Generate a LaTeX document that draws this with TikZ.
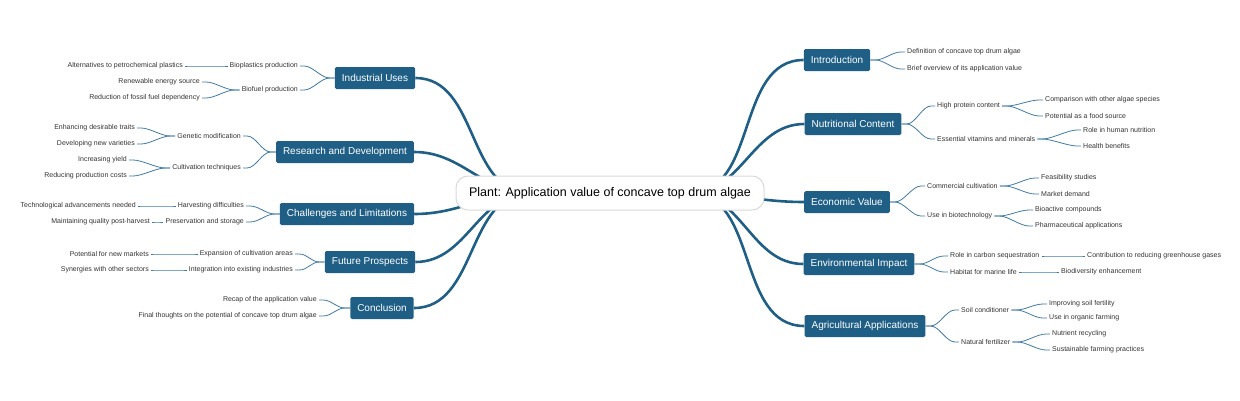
\documentclass[tikz,border=0pt]{standalone}
\usepackage{fontspec}
\setmainfont{Liberation Sans}
\definecolor{mb}{HTML}{1F5F86}
\definecolor{sb}{HTML}{3F7AA3}
\begin{document}
\begin{tikzpicture}[x=1pt,y=-1pt,
 main/.style={fill=mb,text=white,font=\fontsize{10}{12}\selectfont,inner xsep=7pt,minimum height=22pt,rounded corners=1.5pt},
 lf/.style={font=\fontsize{7}{8}\selectfont,text=black!80,inner xsep=2pt,inner ysep=2.5pt},
 thick1/.style={draw=mb,line width=2.6pt},
 sub/.style={draw=sb,line width=0.8pt}]
\useasboundingbox (0,0) rectangle (1240,400);
\coordinate (cr) at (690,193);
\coordinate (cl) at (530,193);
\node[main] (intro) at (837,60) {Introduction};
\node[main] (nut) at (853,124) {Nutritional Content};
\node[main] (eco) at (847,202) {Economic Value};
\node[main] (env) at (859,264) {Environmental Impact};
\node[main] (agr) at (865,326) {Agricultural Applications};
\node[main] (ind) at (375,78) {Industrial Uses};
\node[main] (rd) at (345,152) {Research and Development};
\node[main] (cha) at (347,214) {Challenges and Limitations};
\node[main] (fut) at (370,262) {Future Prospects};
\node[main] (con) at (382,308) {Conclusion};
\foreach \b in {intro,nut,eco,env,agr}
  \draw[thick1] (cr) to[out=0,in=180] (\b.west);
\foreach \b in {ind,rd,cha,fut,con}
  \draw[thick1] (cl) to[out=180,in=0] (\b.east);
\node[draw=black!15,line width=1pt,fill=white,rounded corners=12pt,minimum height=34pt,minimum width=308pt,font=\fontsize{12.5}{14}\selectfont] (ctr) at (610,193) {Plant: Application value of concave top drum algae};
\newcommand{\rs}[4]{\node[lf,anchor=west] (#1) at (#3) {#4};
 \draw[sub] (#2) -- ++(5,0) .. controls +(9,0) and +(-9,0) .. ([xshift=-4pt]#1.west) -- (#1.west);}
\newcommand{\ls}[4]{\node[lf,anchor=east] (#1) at (#3) {#4};
 \draw[sub] (#2) -- ++(-5,0) .. controls +(-9,0) and +(9,0) .. ([xshift=4pt]#1.east) -- (#1.east);}
\rs{i1}{intro.east}{905,52}{Definition of concave top drum algae}
\rs{i2}{intro.east}{905,69}{Brief overview of its application value}
\rs{n1}{nut.east}{935,106}{High protein content}
\rs{n11}{n1.east}{1043,100}{Comparison with other algae species}
\rs{n12}{n1.east}{1043,116}{Potential as a food source}
\rs{n2}{nut.east}{935,139}{Essential vitamins and minerals}
\rs{n21}{n2.east}{1081,130}{Role in human nutrition}
\rs{n22}{n2.east}{1081,146}{Health benefits}
\rs{e1}{eco.east}{925,186}{Commercial cultivation}
\rs{e11}{e1.east}{1039,178}{Feasibility studies}
\rs{e12}{e1.east}{1039,194}{Market demand}
\rs{e2}{eco.east}{925,216}{Use in biotechnology}
\rs{e21}{e2.east}{1033,210}{Bioactive compounds}
\rs{e22}{e2.east}{1033,226}{Pharmaceutical applications}
\rs{v1}{env.east}{948,256}{Role in carbon sequestration}
\rs{v11}{v1.east}{1085,256}{Contribution to reducing greenhouse gases}
\rs{v2}{env.east}{948,272}{Habitat for marine life}
\rs{v21}{v2.east}{1059,272}{Biodiversity enhancement}
\rs{a1}{agr.east}{959,310}{Soil conditioner}
\rs{a11}{a1.east}{1047,304}{Improving soil fertility}
\rs{a12}{a1.east}{1047,318}{Use in organic farming}
\rs{a2}{agr.east}{959,342}{Natural fertilizer}
\rs{a21}{a2.east}{1050,334}{Nutrient recycling}
\rs{a22}{a2.east}{1050,350}{Sustainable farming practices}
\ls{b1}{ind.west}{300,66}{Bioplastics production}
\ls{b11}{b1.west}{185,66}{Alternatives to petrochemical plastics}
\ls{b2}{ind.west}{300,90}{Biofuel production}
\ls{b21}{b2.west}{202,82}{Renewable energy source}
\ls{b22}{b2.west}{202,98}{Reduction of fossil fuel dependency}
\ls{r1}{rd.west}{243,136}{Genetic modification}
\ls{r11}{r1.west}{137,128}{Enhancing desirable traits}
\ls{r12}{r1.west}{137,144}{Developing new varieties}
\ls{r2}{rd.west}{243,168}{Cultivation techniques}
\ls{r21}{r2.west}{129,160}{Increasing yield}
\ls{r22}{r2.west}{129,176}{Reducing production costs}
\ls{c1}{cha.west}{246,206}{Harvesting difficulties}
\ls{c11}{c1.west}{138,206}{Technological advancements needed}
\ls{c2}{cha.west}{246,222}{Preservation and storage}
\ls{c21}{c2.west}{152,222}{Maintaining quality post-harvest}
\ls{f1}{fut.west}{295,254}{Expansion of cultivation areas}
\ls{f11}{f1.west}{151,254}{Potential for new markets}
\ls{f2}{fut.west}{295,270}{Integration into existing industries}
\ls{f21}{f2.west}{151,270}{Synergies with other sectors}
\ls{k1}{con.west}{319,300}{Recap of the application value}
\ls{k2}{con.west}{319,316}{Final thoughts on the potential of concave top drum algae}
\end{tikzpicture}
\end{document}
